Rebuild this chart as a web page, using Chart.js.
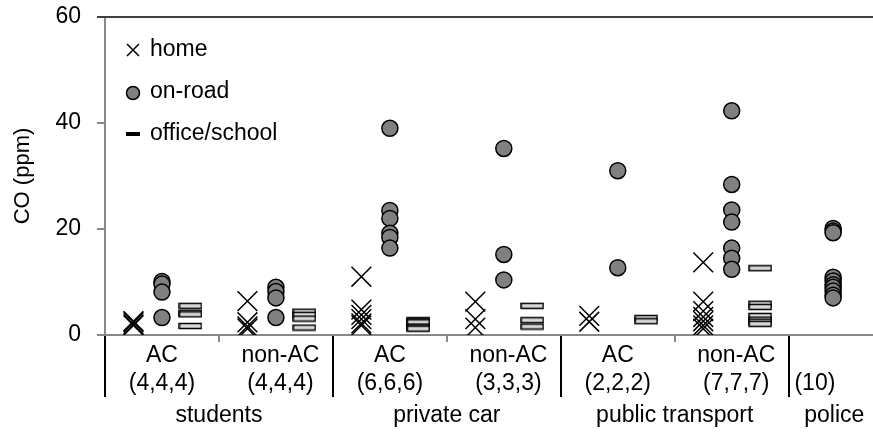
<!DOCTYPE html>
<html>
<head>
<meta charset="utf-8">
<script src="https://cdn.jsdelivr.net/npm/chart.js@4.4.0/dist/chart.umd.min.js"></script>
<style>
  html, body { margin: 0; padding: 0; background: #fff; }
</style>
</head>
<body>
<canvas id="chart" width="873" height="435"></canvas>
<script>
// categories along the x axis
const subgroups = ["AC", "non-AC", "AC", "non-AC", "AC", "non-AC", ""];
const counts = ["(4,4,4)", "(4,4,4)", "(6,6,6)", "(3,3,3)", "(2,2,2)", "(7,7,7)", "(10)"];
const groups = ["students", "private car", "public transport", "police"];
const groupSpans = [[0, 2], [2, 4], [4, 6], [6, 7]];

// CO (ppm), one list per category
const home = [
  [1.8, 2.0, 2.4, 2.6],
  [6.4, 2.4, 1.6, 1.2],
  [11.0, 4.8, 3.8, 3.0, 2.2, 1.8],
  [6.3, 3.0, 1.4],
  [3.6, 2.5],
  [13.7, 6.3, 4.5, 3.4, 2.6, 1.8, 1.2],
  []
];
const onRoad = [
  [10.1, 9.6, 8.1, 3.3],
  [9.0, 8.2, 7.0, 3.3],
  [39.0, 23.5, 22.0, 19.2, 18.4, 16.4],
  [35.2, 15.2, 10.4],
  [31.0, 12.7],
  [42.3, 28.4, 23.6, 21.3, 16.4, 14.5, 12.4],
  [20.1, 19.6, 19.3, 10.9, 10.2, 9.5, 9.0, 8.3, 7.5, 7.0]
];
const office = [
  [5.5, 4.2, 3.9, 1.7],
  [4.4, 3.8, 3.1, 1.4],
  [2.8, 2.6, 2.4, 1.6, 1.4, 1.2],
  [5.5, 2.8, 1.6],
  [3.2, 2.6],
  [12.6, 5.9, 5.3, 3.6, 2.9, 2.5, 2.1],
  []
];
const yTicks = [0, 20, 40, 60];

const X_MAX = 6.74;
const POLICE_X = 6.39;

function xPos(i, offset) {
  return i === 6 ? POLICE_X : i + offset;
}

function toPoints(lists, offset) {
  const pts = [];
  lists.forEach((list, i) => {
    list.forEach(v => pts.push({ x: xPos(i, offset), y: v }));
  });
  return pts;
}

// bar marker used for office/school
function barMarker() {
  const c = document.createElement("canvas");
  c.width = 24;
  c.height = 8;
  const g = c.getContext("2d");
  g.fillStyle = "#d9d9d9";
  g.fillRect(1, 1.5, 22, 5);
  g.strokeStyle = "#000";
  g.lineWidth = 1.5;
  g.strokeRect(1, 1.5, 22, 5);
  return c;
}

const mainFont = '"Liberation Sans", Arial, sans-serif';

const extras = {
  id: "extras",
  afterDraw(chart) {
    const ctx = chart.ctx;
    const xs = chart.scales.x;
    const area = chart.chartArea;
    const bottom = area.bottom;
    ctx.save();

    // top frame line
    ctx.strokeStyle = "#404040";
    ctx.lineWidth = 2;
    ctx.beginPath();
    ctx.moveTo(area.left - 8, area.top);
    ctx.lineTo(area.right, area.top);
    ctx.stroke();

    // group separators
    ctx.strokeStyle = "#000";
    ctx.lineWidth = 2;
    [0, 2, 4, 6].forEach(v => {
      const px = Math.round(xs.getPixelForValue(v));
      ctx.beginPath();
      ctx.moveTo(px, bottom + 1);
      ctx.lineTo(px, bottom + 62);
      ctx.stroke();
    });
    // short ticks inside groups
    ctx.strokeStyle = "#888";
    [1, 3, 5].forEach(v => {
      const px = Math.round(xs.getPixelForValue(v));
      ctx.beginPath();
      ctx.moveTo(px, bottom);
      ctx.lineTo(px, bottom + 7);
      ctx.stroke();
    });

    // category labels
    ctx.fillStyle = "#000";
    ctx.textAlign = "center";
    ctx.textBaseline = "middle";
    ctx.font = "23px " + mainFont;
    subgroups.forEach((s, i) => {
      const mid = i === 6 ? 6.23 : i + (i % 2 ? 0.54 : 0.5);
      const px = xs.getPixelForValue(mid);
      if (s) ctx.fillText(s, px, bottom + 21);
      ctx.fillText(counts[i], px, bottom + 49);
    });
    groups.forEach((g, i) => {
      const span = groupSpans[i];
      let mid = (span[0] + span[1]) / 2;
      if (i === 3) mid = 6.4;
      ctx.fillText(g, xs.getPixelForValue(mid), bottom + 81);
    });

    // legend
    const lx = area.left + 28;
    ctx.textAlign = "left";
    ctx.strokeStyle = "#000";
    ctx.lineWidth = 1.5;
    ctx.beginPath();
    ctx.moveTo(lx - 6, 44);
    ctx.lineTo(lx + 6, 56);
    ctx.moveTo(lx + 6, 44);
    ctx.lineTo(lx - 6, 56);
    ctx.stroke();
    ctx.fillText("home", lx + 17, 50);

    ctx.beginPath();
    ctx.arc(lx, 93, 6.5, 0, Math.PI * 2);
    ctx.fillStyle = "#808080";
    ctx.fill();
    ctx.stroke();
    ctx.fillStyle = "#000";
    ctx.fillText("on-road", lx + 17, 92);

    ctx.fillRect(lx - 7, 132, 14, 4);
    ctx.fillText("office/school", lx + 17, 134);

    ctx.restore();
  }
};

new Chart(document.getElementById("chart"), {
  type: "scatter",
  data: {
    datasets: [
      {
        label: "home",
        data: toPoints(home, 0.25),
        pointStyle: "crossRot",
        pointRadius: 14,
        borderColor: "#000",
        borderWidth: 1.5,
        order: 1
      },
      {
        label: "on-road",
        data: toPoints(onRoad, 0.5),
        pointStyle: "circle",
        pointRadius: 8,
        backgroundColor: "#808080",
        borderColor: "#000",
        borderWidth: 1.5,
        order: 2
      },
      {
        label: "office/school",
        data: toPoints(office, 0.75),
        pointStyle: barMarker(),
        order: 3
      }
    ]
  },
  options: {
    responsive: false,
    animation: false,
    layout: {
      autoPadding: false,
      padding: { top: 17, right: 0, left: 0, bottom: 0 }
    },
    plugins: {
      legend: { display: false },
      tooltip: { enabled: false }
    },
    scales: {
      x: {
        type: "linear",
        min: 0,
        max: X_MAX,
        ticks: { display: false },
        grid: { display: false },
        border: { color: "#888", width: 2 },
        afterFit(scale) {
          scale.height = 100;
          scale.paddingLeft = 0;
          scale.paddingRight = 0;
        }
      },
      y: {
        min: 0,
        max: 60,
        afterBuildTicks(scale) { scale.ticks = yTicks.map(v => ({ value: v })); },
        ticks: {
          color: "#000",
          padding: 16,
          font: { family: mainFont, size: 23 }
        },
        grid: {
          drawOnChartArea: false,
          tickLength: 8,
          color: "#888",
          lineWidth: 2
        },
        border: { color: "#888", width: 2 },
        title: {
          display: true,
          text: "CO (ppm)",
          color: "#000",
          padding: { top: 10, bottom: 0 },
          font: { family: mainFont, size: 22 }
        },
        afterFit(scale) {
          scale.width = 105;
          scale.paddingTop = 0;
          scale.paddingBottom = 0;
        }
      }
    }
  },
  plugins: [extras]
});
</script>
</body>
</html>
